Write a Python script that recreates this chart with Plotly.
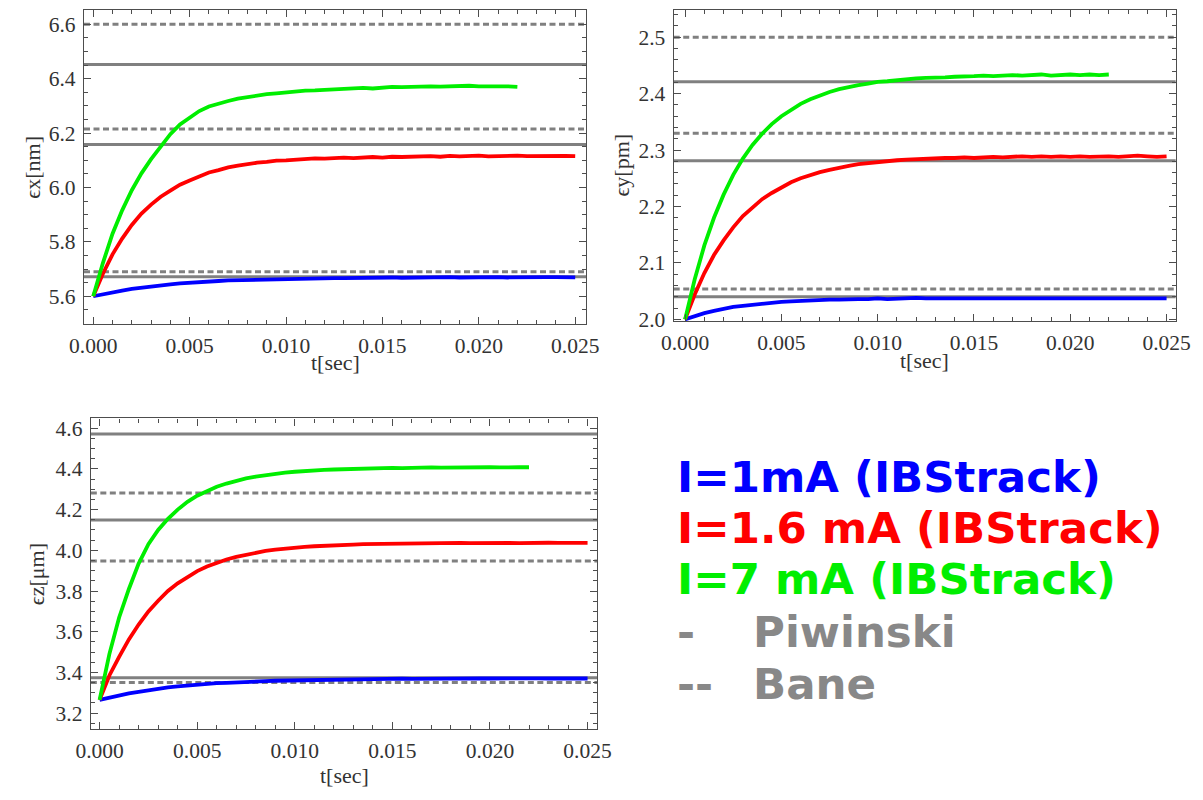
import plotly.graph_objects as go

# ---------------- data ----------------
# sample times [s]
T = [0.0, 0.0005, 0.001, 0.0015, 0.002, 0.0025, 0.003, 0.0035, 0.004, 0.0045,
     0.005, 0.0055, 0.006, 0.0065, 0.007, 0.0075, 0.008, 0.0085, 0.009, 0.0095,
     0.010, 0.0105, 0.011, 0.0115, 0.012, 0.0125, 0.013, 0.0135, 0.014, 0.0145,
     0.015, 0.0155, 0.016, 0.0165, 0.017, 0.0175, 0.018, 0.0185, 0.019, 0.0195,
     0.020, 0.0205, 0.021, 0.0215, 0.022, 0.0225, 0.023, 0.0235, 0.024, 0.0245,
     0.025]
T_7mA = T[:45]  # the 7 mA run stops at 0.022 s

# horizontal emittance ex [nm]
ex_1mA = [5.600, 5.608, 5.615, 5.621, 5.627, 5.632, 5.637, 5.641, 5.644, 5.647,
          5.650, 5.652, 5.654, 5.656, 5.658, 5.659, 5.660, 5.661, 5.663, 5.663,
          5.664, 5.665, 5.665, 5.666, 5.666, 5.667, 5.667, 5.668, 5.667, 5.668,
          5.668, 5.669, 5.668, 5.669, 5.669, 5.668, 5.669, 5.670, 5.669, 5.670,
          5.669, 5.670, 5.670, 5.669, 5.670, 5.670, 5.669, 5.670, 5.670, 5.669,
          5.669]
ex_16mA = [5.600, 5.683, 5.754, 5.812, 5.862, 5.904, 5.937, 5.966, 5.988, 6.010,
           6.026, 6.042, 6.055, 6.064, 6.074, 6.080, 6.087, 6.091, 6.094, 6.099,
           6.100, 6.103, 6.104, 6.107, 6.106, 6.109, 6.110, 6.108, 6.111, 6.112,
           6.110, 6.113, 6.112, 6.114, 6.113, 6.115, 6.113, 6.116, 6.114, 6.115,
           6.117, 6.114, 6.116, 6.115, 6.117, 6.115, 6.116, 6.114, 6.117, 6.116,
           6.115]
ex_7mA = [5.600, 5.722, 5.830, 5.916, 5.990, 6.052, 6.104, 6.152, 6.196, 6.232,
          6.258, 6.281, 6.298, 6.309, 6.318, 6.327, 6.333, 6.336, 6.343, 6.346,
          6.350, 6.352, 6.356, 6.357, 6.359, 6.362, 6.361, 6.364, 6.366, 6.364,
          6.368, 6.370, 6.369, 6.371, 6.370, 6.372, 6.371, 6.373, 6.372, 6.374,
          6.372, 6.373, 6.371, 6.372, 6.370]
ex_piwinski = [5.672, 6.158, 6.452]
ex_bane = [5.690, 6.215, 6.600]

# vertical emittance ey [pm]
ey_1mA = [2.000, 2.006, 2.011, 2.015, 2.019, 2.022, 2.024, 2.026, 2.028, 2.030,
          2.031, 2.032, 2.033, 2.034, 2.034, 2.035, 2.035, 2.036, 2.036, 2.036,
          2.037, 2.036, 2.037, 2.037, 2.038, 2.037, 2.037, 2.038, 2.037, 2.038,
          2.037, 2.038, 2.038, 2.037, 2.038, 2.038, 2.037, 2.038, 2.038, 2.037,
          2.038, 2.038, 2.037, 2.038, 2.038, 2.037, 2.038, 2.038, 2.037, 2.038,
          2.037]
ey_16mA = [2.000, 2.044, 2.082, 2.114, 2.140, 2.163, 2.183, 2.199, 2.213, 2.224,
           2.234, 2.243, 2.250, 2.256, 2.261, 2.265, 2.269, 2.272, 2.275, 2.277,
           2.279, 2.280, 2.282, 2.283, 2.284, 2.285, 2.285, 2.286, 2.286, 2.287,
           2.286, 2.287, 2.288, 2.287, 2.288, 2.289, 2.288, 2.289, 2.288, 2.289,
           2.288, 2.289, 2.288, 2.289, 2.289, 2.288, 2.289, 2.290, 2.289, 2.288,
           2.289]
ey_7mA = [2.000, 2.071, 2.131, 2.180, 2.221, 2.256, 2.285, 2.309, 2.329, 2.346,
          2.360, 2.372, 2.382, 2.390, 2.397, 2.403, 2.408, 2.412, 2.415, 2.418,
          2.421, 2.422, 2.424, 2.426, 2.427, 2.428, 2.428, 2.429, 2.430, 2.430,
          2.431, 2.432, 2.431, 2.432, 2.433, 2.432, 2.433, 2.434, 2.432, 2.433,
          2.434, 2.433, 2.434, 2.433, 2.434]
ey_piwinski = [2.040, 2.281, 2.421]
ey_bane = [2.054, 2.330, 2.500]

# longitudinal emittance ez [um]
ez_1mA = [3.265, 3.277, 3.288, 3.297, 3.305, 3.313, 3.320, 3.326, 3.331, 3.336,
          3.340, 3.343, 3.347, 3.349, 3.352, 3.354, 3.356, 3.357, 3.359, 3.360,
          3.361, 3.362, 3.363, 3.364, 3.365, 3.365, 3.366, 3.367, 3.367, 3.368,
          3.368, 3.369, 3.368, 3.369, 3.370, 3.369, 3.370, 3.369, 3.370, 3.371,
          3.370, 3.371, 3.370, 3.371, 3.370, 3.371, 3.370, 3.371, 3.370, 3.371,
          3.370]
ez_16mA = [3.265, 3.385, 3.476, 3.562, 3.635, 3.700, 3.752, 3.800, 3.838, 3.870,
           3.898, 3.920, 3.940, 3.955, 3.968, 3.979, 3.989, 3.997, 4.003, 4.009,
           4.013, 4.017, 4.020, 4.023, 4.025, 4.027, 4.028, 4.030, 4.031, 4.032,
           4.032, 4.033, 4.034, 4.033, 4.035, 4.034, 4.035, 4.036, 4.035, 4.036,
           4.035, 4.037, 4.036, 4.035, 4.037, 4.036, 4.037, 4.036, 4.037, 4.036,
           4.036]
ez_7mA = [3.265, 3.490, 3.670, 3.810, 3.935, 4.030, 4.100, 4.155, 4.200, 4.238,
          4.268, 4.292, 4.312, 4.328, 4.342, 4.353, 4.362, 4.370, 4.376, 4.382,
          4.386, 4.390, 4.393, 4.395, 4.397, 4.399, 4.401, 4.402, 4.403, 4.404,
          4.405, 4.404, 4.406, 4.405, 4.407, 4.406, 4.407, 4.406, 4.408, 4.407,
          4.408, 4.407, 4.409, 4.408, 4.408]
ez_piwinski = [3.374, 4.149, 4.572]
ez_bane = [3.350, 3.948, 4.281]

# legend entries
legend_labels = ["I=1mA (IBStrack)", "I=1.6 mA (IBStrack)", "I=7 mA (IBStrack)"]
legend_colors = ["#0000ff", "#ff0000", "#00ee00"]
ref_labels = [("-", "Piwinski"), ("--", "Bane")]

# ---------------- figure ----------------
W, H = 1203, 800
GRAY = "#808080"
FRAME = "#4d4d4d"
SERIF = "Liberation Serif, Times New Roman, serif"
TXT = "#333333"

panels = [
    # axis suffix, x-domain, y-domain, y-range, y major, y minor, series, refs, ylabel, title positions
    ("", [70.7 / W, 585.3 / W], [1 - 327.3 / H, 1 - 8.3 / H], [5.498, 6.652], 0.2, 0.05,
     [ex_1mA, ex_16mA, ex_7mA], ex_piwinski, ex_bane, "ϵx[nm]", 18, 366),
    ("2", [675.0 / W, 1189.3 / W], [1 - 324.3 / H, 1 - 8.3 / H], [1.997, 2.548], 0.1, 0.02,
     [ey_1mA, ey_16mA, ey_7mA], ey_piwinski, ey_bane, "ϵy[pm]", 622, 364),
    ("3", [77.7 / W, 596.7 / W], [1 - 739.0 / H, 1 - 423.3 / H], [3.122, 4.648], 0.2, 0.05,
     [ez_1mA, ez_16mA, ez_7mA], ez_piwinski, ez_bane, "ϵz[μm]", 22, 786),
]
xranges = [[-0.00048, 0.02557], [-0.00059, 0.02547], [-0.00045, 0.0255]]

fig = go.Figure()
layout = dict(
    width=W, height=H,
    margin=dict(l=0, r=0, t=0, b=0),
    paper_bgcolor="white", plot_bgcolor="white",
    showlegend=False,
)

annotations = []
shapes = []
for (sfx, xd, yd, yr, ymaj, ymin, series, piw, bane, ylab, ylab_x, xlab_y), xr in zip(panels, xranges):
    xa, ya = "x" + sfx, "y" + sfx
    common = dict(
        showline=True, linecolor=FRAME, linewidth=1.2, mirror="ticks",
        ticks="inside", ticklen=7, tickwidth=1, tickcolor=FRAME,
        showgrid=False, zeroline=False,
        tickfont=dict(family=SERIF, size=21.5, color=TXT),
    )
    layout["xaxis" + sfx] = dict(
        common, domain=xd, range=xr, anchor=ya, tick0=0, dtick=0.005,
        tickformat=".3f", ticklabelstandoff=2,
        minor=dict(dtick=0.001, ticks="inside", ticklen=4, tickcolor=FRAME, showgrid=False),
    )
    layout["yaxis" + sfx] = dict(
        common, domain=yd, range=yr, anchor=xa, tick0=0, dtick=ymaj,
        tickformat=".1f", ticklabelstandoff=3,
        minor=dict(dtick=ymin, ticks="inside", ticklen=4, tickcolor=FRAME, showgrid=False),
    )

    # reference levels: Piwinski (solid) and Bane (dashed)
    for v in piw:
        shapes.append(dict(type="line", xref=xa + " domain", x0=0, x1=1, yref=ya, y0=v, y1=v,
                           line=dict(color=GRAY, width=3), layer="below"))
    for v in bane:
        shapes.append(dict(type="line", xref=xa + " domain", x0=0, x1=1, yref=ya, y0=v, y1=v,
                           line=dict(color=GRAY, width=3, dash="6px,3.5px"), layer="below"))

    # tracking results
    for ys, col in zip(series, legend_colors):
        xs = T_7mA if len(ys) == len(T_7mA) else T
        fig.add_trace(go.Scatter(x=xs, y=ys, mode="lines", xaxis=xa, yaxis=ya,
                                 line=dict(color=col, width=3.8), hoverinfo="skip"))

    # axis titles
    x_mid = (xd[0] + xd[1]) / 2
    annotations.append(dict(text="t[sec]", xref="paper", yref="paper", x=x_mid,
                            y=1 - xlab_y / H, xanchor="center", yanchor="middle", showarrow=False,
                            font=dict(family=SERIF, size=22, color=TXT)))
    annotations.append(dict(text=ylab, xref="paper", yref="paper", x=ylab_x / W,
                            y=(yd[0] + yd[1]) / 2, xanchor="center", yanchor="middle",
                            textangle=-90, showarrow=False,
                            font=dict(family=SERIF, size=22, color=TXT)))

# legend text block
LEG_FONT = "DejaVu Sans"
LEG_SIZE = 43.5
for i, (lab, col) in enumerate(zip(legend_labels, legend_colors)):
    annotations.append(dict(text="<b>%s</b>" % lab, xref="paper", yref="paper",
                            x=676 / W, y=1 - (483 + 52 * i) / H, xanchor="left",
                            yanchor="middle", showarrow=False,
                            font=dict(family=LEG_FONT, size=LEG_SIZE, color=col)))
for j, (mark, lab) in enumerate(ref_labels):
    yy = 1 - (640 + 53 * j) / H
    annotations.append(dict(text="<b>%s</b>" % mark, xref="paper", yref="paper",
                            x=676 / W, y=yy, xanchor="left", yanchor="middle", showarrow=False,
                            font=dict(family=LEG_FONT, size=LEG_SIZE, color="#888888")))
    annotations.append(dict(text="<b>%s</b>" % lab, xref="paper", yref="paper",
                            x=754 / W, y=yy, xanchor="left", yanchor="middle", showarrow=False,
                            font=dict(family=LEG_FONT, size=LEG_SIZE, color="#888888")))

layout["annotations"] = annotations
layout["shapes"] = shapes
fig.update_layout(**layout)

fig.write_html("out.html")
